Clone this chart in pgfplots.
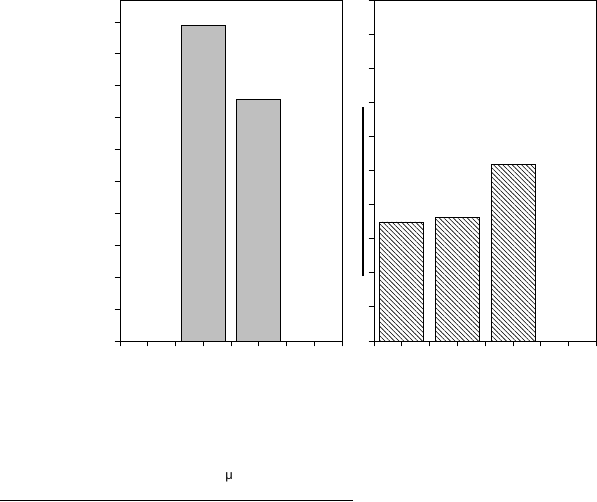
\documentclass[border=0pt]{standalone}
\usepackage{pgfplots}
\pgfplotsset{compat=1.18}
\usetikzlibrary{patterns.meta}
\usepackage{fontspec}
\setmainfont{Liberation Sans}
\begin{document}
\begin{tikzpicture}[x=1pt,y=1pt]
\useasboundingbox (0,0) rectangle (597,502);
\pgfplotsset{
  myax/.style={
    scale only axis,
    axis line style={line width=0.9pt},
    every tick/.style={black, line width=0.8pt},
    tick align=outside,
    major tick length=5.5pt,
    xtick pos=bottom, ytick pos=left,
    xmin=0.5, xmax=4.5, ymin=0,
    xtick={0.5,1,...,4.5},
    xticklabels={}, yticklabels={},
    ybar, bar shift=0pt, bar width=44pt,
    clip=false,
  }
}
\begin{axis}[myax, at={(120pt,161pt)}, anchor=south west,
  width=222pt, height=341pt, ymax=5.345,
  ytick={0,0.5,...,5}]
\addplot[draw=black, line width=0.8pt, fill=black!25] coordinates {(2,4.95) (3,3.79)};
\end{axis}
\begin{axis}[myax, at={(374pt,161pt)}, anchor=south west,
  width=222.5pt, height=341pt, ymax=10,
  ytick={0,1,...,10}]
\addplot[draw=black, line width=0.8pt,
  pattern={Lines[angle=-45, distance=3.3pt, line width=0.55pt]}, pattern color=black]
  coordinates {(1,3.49) (2,3.61) (3,5.19)};
\draw[line width=1.3pt] (axis description cs:-0.05,0.19) -- (axis description cs:-0.05,0.687);
\end{axis}
\node[font=\fontsize{13}{14}\selectfont] at (229,25) {μ};
\draw[line width=1pt] (0,1) -- (353,1);
\end{tikzpicture}
\end{document}
